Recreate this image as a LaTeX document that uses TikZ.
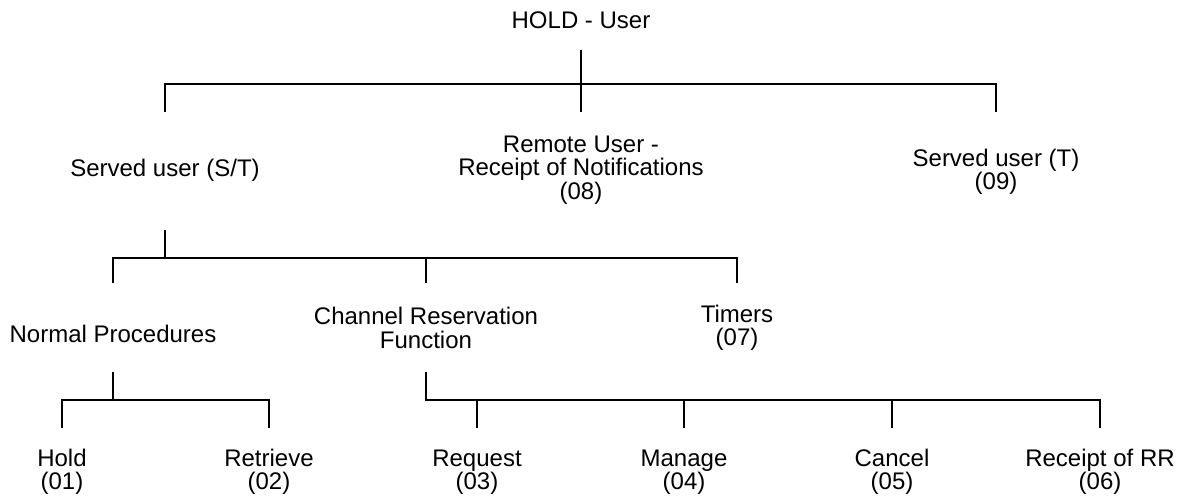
\documentclass[tikz,border=0pt]{standalone}
\usepackage{fontspec}
\setmainfont{Liberation Sans}
\usetikzlibrary{positioning}

\begin{document}
\begin{tikzpicture}[x=0.5pt, y=-0.5pt, line width=0.9pt,
	every node/.style={align=center, inner sep=0pt, font=\fontsize{12pt}{11.75pt}\selectfont}]
	\useasboundingbox (0,0) rectangle (1180,499);
	\node (root) at (581,20) {HOLD - User};
	\node (su) at (165,170) {Served user (S/T)};
	\node (ru) at (581,170) {Remote User -\\Receipt of Notifications\\(08)};
	\node (st) at (996,172) {Served user (T)\\(09)};
		\node (np)  at (113,334) {Normal Procedures};
		\node (crf) at (426,328) {Channel Reservation\\Function};
		\node (tim) at (737,328) {Timers\\(07)};
			\node (hold) at (62,472)   {Hold\\(01)};
			\node (retr) at (269,472)  {Retrieve\\(02)};
			\node (req)  at (477,472)  {Request\\(03)};
			\node (man)  at (684,472)  {Manage\\(04)};
			\node (can)  at (892,472)  {Cancel\\(05)};
			\node (rr)   at (1100,472) {Receipt of RR\\(06)};
	% heights of the bars
	\coordinate (l1a) at (0,50);  \coordinate (l1b) at (0,84);  \coordinate (l1c) at (0,112);
	\coordinate (l2a) at (0,230); \coordinate (l2b) at (0,258); \coordinate (l2c) at (0,283);
	\coordinate (l3a) at (0,372); \coordinate (l3b) at (0,400); \coordinate (l3c) at (0,428);
	% level 1
	\draw (root |- l1a) -- (root |- l1b);
	\draw (su |- l1c) |- (st |- l1b) -- (st |- l1c);
	\draw (ru |- l1b) -- (ru |- l1c);
	% level 2
	\draw (su |- l2a) -- (su |- l2b);
	\draw (np |- l2c) |- (tim |- l2b) -- (tim |- l2c);
	\draw (crf |- l2b) -- (crf |- l2c);
	% level 3
	\draw (np |- l3a) -- (np |- l3b);
	\draw (hold |- l3c) |- (retr |- l3b) -- (retr |- l3c);
	\draw (crf |- l3a) |- (rr |- l3b) -- (rr |- l3c);
	\foreach \to in {req,man,can}
		\draw (\to |- l3b) -- (\to |- l3c);
\end{tikzpicture}
\end{document}
